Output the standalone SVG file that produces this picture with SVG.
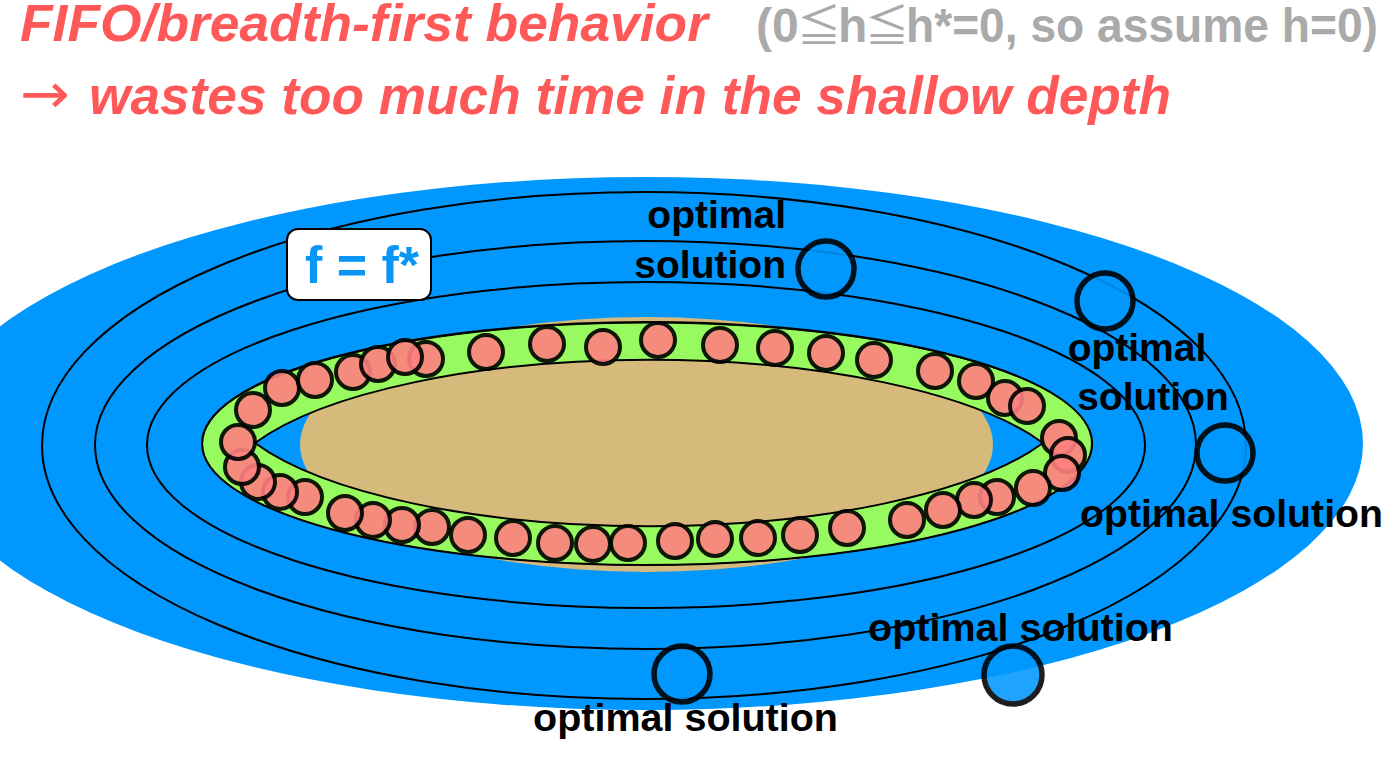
<svg xmlns="http://www.w3.org/2000/svg" width="1385" height="757" viewBox="0 0 1385 757">
  <style>
    .title { font-family: "Liberation Sans", Arial, sans-serif; font-weight: bold; font-style: italic; fill: #FF5858; }
    .gray { font-family: "Liberation Sans", Arial, sans-serif; font-weight: bold; fill: #AAAAAA; }
    .rel { font-family: "Noto Sans CJK JP", "DejaVu Sans", sans-serif; font-weight: normal; }
    .lbl { font-family: "Liberation Sans", Arial, sans-serif; font-weight: bold; font-size: 39px; fill: #000; }
    .contour { fill: none; stroke: #000; stroke-width: 2; }
    .node { fill: #FF8080; stroke: #000; stroke-width: 4; opacity: 0.9; }
    .sol { fill: #0098FE; stroke: #000; stroke-width: 5.5; opacity: 0.88; }
  </style>
  <rect width="1385" height="757" fill="#FFFFFF"/>

  <!-- headings -->
  <g id="heading">
    <text class="title" x="20" y="41" font-size="52" textLength="688" lengthAdjust="spacingAndGlyphs">FIFO/breadth-first behavior</text>
    <text class="gray" x="756" y="42" font-size="48"><tspan x="756">(0</tspan><tspan class="rel" x="797" font-size="44">≦</tspan><tspan x="838">h</tspan><tspan class="rel" x="865" font-size="44">≦</tspan><tspan x="906" textLength="472" lengthAdjust="spacingAndGlyphs">h*=0, so assume h=0)</tspan></text>
    <text x="20" y="113" font-family="'DejaVu Sans', sans-serif" font-size="56" fill="#FF5858" textLength="50" lengthAdjust="spacingAndGlyphs">→</text>
    <text class="title" x="89" y="114" font-size="53" textLength="1082" lengthAdjust="spacingAndGlyphs">wastes too much time in the shallow depth</text>
  </g>

  <!-- search space -->
  <g id="space">
    <ellipse cx="645" cy="443.5" rx="718" ry="266.5" fill="#0098FE"/>
    <ellipse cx="646.5" cy="444.5" rx="346.5" ry="127.5" fill="#D6BA7B"/>
  </g>

  <!-- f contours -->
  <g id="connectors">
    <ellipse class="contour" cx="644" cy="445.5" rx="602" ry="253.5"/>
    <ellipse class="contour" cx="645.5" cy="445" rx="550.5" ry="204"/>
    <ellipse class="contour" cx="646" cy="445" rx="499" ry="163"/>
  </g>

  <!-- frontier ring -->
  <g id="frontier">
    <path d="M202,443.5 A445,121.5 0 1 1 1092,443.5 A445,121.5 0 1 1 202,443.5 Z M255,443 A431,140 0 0 0 1043,443 A431,140 0 0 0 255,443 Z" fill="#97FA5F" fill-rule="evenodd" stroke="#000" stroke-width="2"/>
    <ellipse cx="647.5" cy="444" rx="445" ry="121" fill="none" stroke="#000" stroke-width="1"/>
  </g>

  <g id="nodes">
    <circle class="node" cx="253" cy="410" r="17"/>
    <circle class="node" cx="282" cy="388" r="17"/>
    <circle class="node" cx="315" cy="380" r="17"/>
    <circle class="node" cx="353" cy="372" r="17"/>
    <circle class="node" cx="378" cy="364" r="17"/>
    <circle class="node" cx="426" cy="359" r="17"/>
    <circle class="node" cx="405" cy="357" r="17"/>
    <circle class="node" cx="486" cy="352" r="17"/>
    <circle class="node" cx="547" cy="344" r="17"/>
    <circle class="node" cx="603" cy="347" r="17"/>
    <circle class="node" cx="658" cy="340" r="17"/>
    <circle class="node" cx="720" cy="345" r="17"/>
    <circle class="node" cx="775" cy="348" r="17"/>
    <circle class="node" cx="826" cy="353" r="17"/>
    <circle class="node" cx="874" cy="360" r="17"/>
    <circle class="node" cx="935" cy="371" r="17"/>
    <circle class="node" cx="976" cy="381" r="17"/>
    <circle class="node" cx="1005" cy="398" r="17"/>
    <circle class="node" cx="1027" cy="406" r="17"/>
    <circle class="node" cx="1059" cy="438" r="17"/>
    <circle class="node" cx="1068" cy="455" r="17"/>
    <circle class="node" cx="1062" cy="473" r="17"/>
    <circle class="node" cx="1033" cy="488" r="17"/>
    <circle class="node" cx="997" cy="497" r="17"/>
    <circle class="node" cx="974" cy="500" r="17"/>
    <circle class="node" cx="943" cy="510" r="17"/>
    <circle class="node" cx="907" cy="520" r="17"/>
    <circle class="node" cx="847" cy="528" r="17"/>
    <circle class="node" cx="800" cy="535" r="17"/>
    <circle class="node" cx="758" cy="538" r="17"/>
    <circle class="node" cx="715" cy="539" r="17"/>
    <circle class="node" cx="675" cy="541" r="17"/>
    <circle class="node" cx="628" cy="543" r="17"/>
    <circle class="node" cx="593" cy="544" r="17"/>
    <circle class="node" cx="555" cy="543" r="17"/>
    <circle class="node" cx="513" cy="538" r="17"/>
    <circle class="node" cx="468" cy="535" r="17"/>
    <circle class="node" cx="432" cy="527" r="17"/>
    <circle class="node" cx="402" cy="525" r="17"/>
    <circle class="node" cx="373" cy="520" r="17"/>
    <circle class="node" cx="345" cy="513" r="17"/>
    <circle class="node" cx="305" cy="497" r="17"/>
    <circle class="node" cx="280" cy="492" r="17"/>
    <circle class="node" cx="258" cy="482" r="17"/>
    <circle class="node" cx="242" cy="467" r="17"/>
    <circle class="node" cx="238" cy="442" r="17"/>
  </g>

  <!-- optimal solutions -->
  <g id="sol1">
    <circle class="sol" cx="826" cy="269" r="28"/>
    <text class="lbl" x="786" y="228" text-anchor="end">optimal</text>
    <text class="lbl" x="786" y="278" text-anchor="end">solution</text>
  </g>
  <g id="sol2">
    <circle class="sol" cx="1105" cy="301" r="28"/>
    <text class="lbl" x="1137" y="361" text-anchor="middle">optimal</text>
    <text class="lbl" x="1153" y="410" text-anchor="middle">solution</text>
  </g>
  <g id="sol3">
    <circle class="sol" cx="1225" cy="453" r="28"/>
    <text class="lbl" x="1080" y="527" textLength="303" lengthAdjust="spacingAndGlyphs">optimal solution</text>
  </g>
  <g id="sol4">
    <circle class="sol" cx="1013" cy="675" r="29"/>
    <text class="lbl" x="868" y="641" textLength="305" lengthAdjust="spacingAndGlyphs">optimal solution</text>
  </g>
  <g id="sol5">
    <circle class="sol" cx="682" cy="674" r="28"/>
    <text class="lbl" x="533" y="731" textLength="305" lengthAdjust="spacingAndGlyphs">optimal solution</text>
  </g>

  <!-- f = f* label -->
  <g id="flabel">
    <rect x="287" y="229" width="144" height="71" rx="11" ry="11" fill="#FFFFFF" stroke="#000" stroke-width="2"/>
    <text x="362" y="283" text-anchor="middle" font-family="'Liberation Sans', Arial, sans-serif" font-weight="bold" font-size="52" fill="#0A96F5">f = f*</text>
  </g>
</svg>
